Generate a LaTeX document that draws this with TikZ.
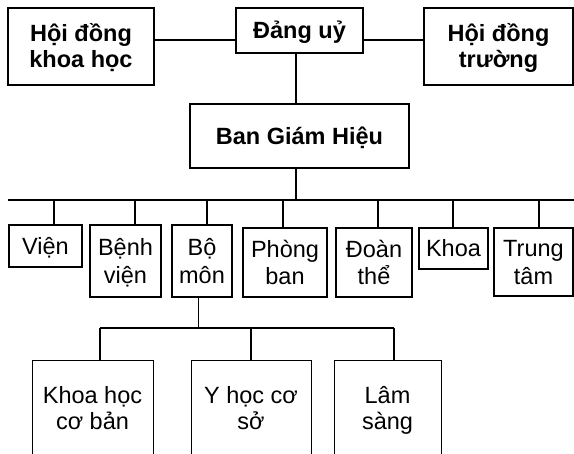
\documentclass[tikz,border=0pt]{standalone}
\usepackage{fontspec}
\setmainfont{Liberation Sans}
% text whose box is exactly from the cap top of the first line to the last baseline
\newcommand\onetxt[1]{\raisebox{0pt}[16.8pt][0pt]{#1}}
\newcommand\twotxt[3]{\raisebox{0pt}[\dimexpr16.8pt+#1\relax][0pt]{\begin{tabular}[b]{@{}c@{}}#2\\#3\end{tabular}}}
\begin{document}
\begin{tikzpicture}[x=1pt,y=-1pt,
  topbox/.style={draw, line width=1.6pt, inner sep=0pt,
    font=\fontsize{23.5pt}{26pt}\selectfont\bfseries},
  midbox/.style={draw, line width=1.3pt, inner sep=0pt,
    font=\fontsize{23.5pt}{27.5pt}\selectfont},
  lowbox/.style={draw, line width=0.9pt, inner sep=0pt,
    font=\fontsize{23.5pt}{26.5pt}\selectfont},
  link/.style={line width=1.5pt},
  thinlink/.style={line width=0.9pt},
  droplink/.style={line width=1.5pt}]
\useasboundingbox (0,0) rectangle (574,454);
\fill[white] (0,0) rectangle (574,454);
\clip (0,0) rectangle (574,454);

% top level
\node[topbox, minimum width=146pt, minimum height=77pt] (hdkh) at (81,46.5) {\twotxt{26pt}{Hội đồng}{khoa học}};
\node[topbox, minimum width=127pt, minimum height=45pt] (dang) at (299.5,30.5) {\onetxt{Đảng uỷ}};
\node[topbox, minimum width=149pt, minimum height=77pt] (hdt) at (498.5,46.5) {\twotxt{26pt}{Hội đồng}{trường}};
\node[topbox, minimum width=219pt, minimum height=64pt] (bgh) at (299.5,136) {\onetxt{Ban Giám Hiệu}};

% second level
\node[midbox, minimum width=73pt, minimum height=42pt] (vien) at (45.5,246) {\onetxt{Viện}};
\node[midbox, minimum width=71pt, minimum height=72pt] (benhvien) at (125.5,261) {\twotxt{27.5pt}{Bệnh}{viện}};
\node[midbox, minimum width=60pt, minimum height=72pt] (bomon) at (202,261) {\twotxt{27.5pt}{Bộ}{môn}};
\node[midbox, minimum width=84pt, minimum height=69pt] (phongban) at (285,262.5) {\twotxt{27.5pt}{Phòng}{ban}};
\node[midbox, minimum width=76pt, minimum height=69pt] (doanthe) at (374,262.5) {\twotxt{27.5pt}{Đoàn}{thể}};
\node[midbox, minimum width=69pt, minimum height=41pt] (khoa) at (453.5,248.5) {\onetxt{Khoa}};
\node[midbox, minimum width=79pt, minimum height=68pt] (trungtam) at (533.5,262) {\twotxt{27.5pt}{Trung}{tâm}};

% third level
\node[lowbox, minimum width=121pt, minimum height=96pt] (khcb) at (92.5,408) {\twotxt{26.5pt}{Khoa học}{cơ bản}};
\node[lowbox, minimum width=120pt, minimum height=96pt] (yhcs) at (251,408) {\twotxt{26.5pt}{Y học cơ}{sở}};
\node[lowbox, minimum width=107pt, minimum height=96pt] (ls) at (387.5,408) {\twotxt{26.5pt}{Lâm}{sàng}};

% helper coordinates
\coordinate (lvl) at (0,40);
\coordinate (vx) at (296,0);
\coordinate (busL) at (8,200);
\coordinate (busR) at (576,200);
\coordinate (b1) at (54,200);
\coordinate (b2) at (135,200);
\coordinate (b3) at (207,200);
\coordinate (b4) at (283,200);
\coordinate (b5) at (378,200);
\coordinate (b6) at (453,200);
\coordinate (b7) at (539,200);
\coordinate (sx) at (198.5,0);
\coordinate (subL) at (100,328);
\coordinate (subM) at (251,328);
\coordinate (subR) at (394,328);

% connectors top
\draw[link] (hdkh.east |- lvl) -- (dang.west |- lvl);
\draw[link] (dang.east |- lvl) -- (hdt.west |- lvl);
\draw[link] (dang.south -| vx) -- (bgh.north -| vx);
\draw[link] (bgh.south -| vx) -- (busL -| vx);
\draw[link] (busL) -- (busR);

% drops to second level
\draw[link] (b1) -- (b1 |- vien.north);
\draw[link] (b2) -- (b2 |- benhvien.north);
\draw[link] (b3) -- (b3 |- bomon.north);
\draw[link] (b4) -- (b4 |- phongban.north);
\draw[link] (b5) -- (b5 |- doanthe.north);
\draw[link] (b6) -- (b6 |- khoa.north);
\draw[link] (b7) -- (b7 |- trungtam.north);

% Bo mon subtree
\draw[thinlink] (bomon.south -| sx) -- (subL -| sx);
\draw[line width=1.2pt] (subL) -- (subR);
\draw[droplink] (subL) -- (subL |- khcb.north);
\draw[droplink] (subM) -- (subM |- yhcs.north);
\draw[droplink] (subR) -- (subR |- ls.north);
\end{tikzpicture}
\end{document}
